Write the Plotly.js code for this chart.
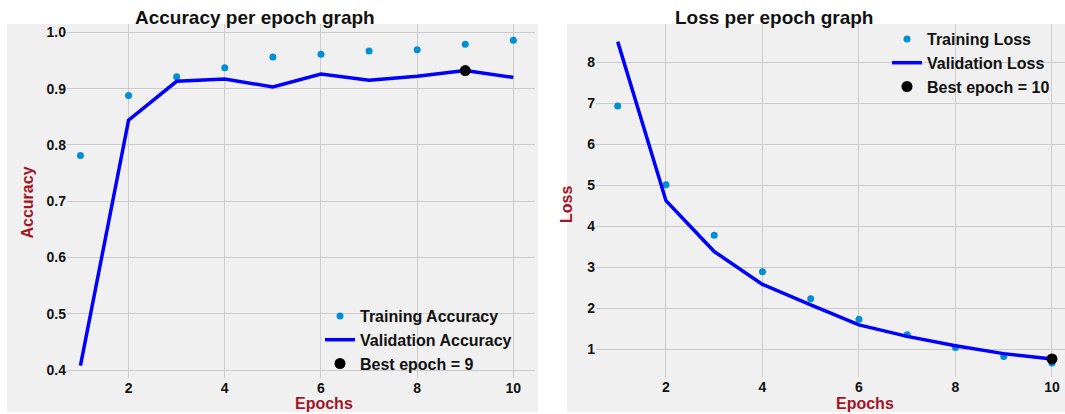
<!DOCTYPE html>
<html>
<head>
<meta charset="utf-8">
<script src="https://cdn.plot.ly/plotly-3.0.1.min.js"></script>
<style>html,body{margin:0;padding:0;background:#fff;}#chart{width:1065px;height:414px;}</style>
</head>
<body>
<div id="chart"></div>
<script>
// ---- data ----
var epochs = [1, 2, 3, 4, 5, 6, 7, 8, 9, 10];
var trainAcc = [0.781, 0.888, 0.921, 0.937, 0.956, 0.961, 0.967, 0.969, 0.979, 0.986];
var valAcc   = [0.408, 0.844, 0.913, 0.917, 0.903, 0.926, 0.915, 0.922, 0.932, 0.920];
var bestAccEpoch = [9];
var bestAccValue = [0.932];

var trainLoss = [6.93, 5.01, 3.78, 2.89, 2.23, 1.73, 1.35, 1.04, 0.82, 0.66];
var valLoss   = [8.50, 4.62, 3.38, 2.58, 2.08, 1.59, 1.31, 1.08, 0.89, 0.76];
var bestLossEpoch = [10];
var bestLossValue = [0.76];

var accTickVals = [0.4, 0.5, 0.6, 0.7, 0.8, 0.9, 1.0];
var lossTickVals = [1, 2, 3, 4, 5, 6, 7, 8];
var epochTickVals = [2, 4, 6, 8, 10];

// ---- styles ----
var FONT = 'Liberation Sans, Arial, sans-serif';
var GRAY = '#f0f0f0';
var GRID = '#cbcbcb';
var TRAIN_C = '#008fd5';
var VAL_C = '#0000ff';
var LABEL_C = '#a01628';
var W = 1065, H = 414;
function px(x) { return x / W; }
function py(y) { return (H - y) / H; }

var traces = [
  {x: epochs, y: trainAcc, type: 'scatter', mode: 'markers', name: 'Training Accuracy',
   marker: {color: TRAIN_C, size: 7}, xaxis: 'x', yaxis: 'y', legend: 'legend', legendrank: 1},
  {x: epochs, y: valAcc, type: 'scatter', mode: 'lines', name: 'Validation Accuracy',
   line: {color: VAL_C, width: 3.5}, xaxis: 'x', yaxis: 'y', legend: 'legend', legendrank: 2},
  {x: bestAccEpoch, y: bestAccValue, type: 'scatter', mode: 'markers', name: 'Best epoch = 9',
   marker: {color: '#000000', size: 11}, xaxis: 'x', yaxis: 'y', legend: 'legend', legendrank: 3},

  {x: epochs, y: trainLoss, type: 'scatter', mode: 'markers', name: 'Training Loss',
   marker: {color: TRAIN_C, size: 7}, xaxis: 'x2', yaxis: 'y2', legend: 'legend2', legendrank: 1},
  {x: epochs, y: valLoss, type: 'scatter', mode: 'lines', name: 'Validation Loss',
   line: {color: VAL_C, width: 3.5}, xaxis: 'x2', yaxis: 'y2', legend: 'legend2', legendrank: 2},
  {x: bestLossEpoch, y: bestLossValue, type: 'scatter', mode: 'markers', name: 'Best epoch = 10',
   marker: {color: '#000000', size: 11}, xaxis: 'x2', yaxis: 'y2', legend: 'legend2', legendrank: 3}
];

var tickFont = {family: FONT, size: 14, color: '#111111', weight: 'bold'};
function axisBase() {
  return {showgrid: true, gridcolor: GRID, gridwidth: 1, zeroline: false, showline: false,
          ticks: '', tickfont: tickFont, fixedrange: true};
}

var xa = axisBase(); xa.domain = [px(67), px(535)]; xa.range = [0.72, 10.45]; xa.tickvals = epochTickVals; xa.anchor = 'y';
var ya = axisBase(); ya.domain = [py(378), py(24)]; ya.range = [0.386, 1.0148]; ya.tickvals = accTickVals; ya.tickformat = '.1f'; ya.anchor = 'x';
var xa2 = axisBase(); xa2.domain = [px(596), 1]; xa2.range = [0.55, 10.27]; xa2.tickvals = epochTickVals; xa2.anchor = 'y2';
var ya2 = axisBase(); ya2.domain = [py(377), py(24)]; ya2.range = [0.32, 8.93]; ya2.tickvals = lossTickVals; ya2.anchor = 'x2';

var legendFont = {family: FONT, size: 16, color: '#111111', weight: 'bold'};

var layout = {
  width: W, height: H,
  margin: {l: 0, r: 0, t: 0, b: 0, pad: 0},
  paper_bgcolor: '#ffffff',
  plot_bgcolor: GRAY,
  showlegend: true,
  xaxis: xa, yaxis: ya, xaxis2: xa2, yaxis2: ya2,
  legend: {x: px(320), y: py(299), xanchor: 'left', yanchor: 'top', bgcolor: 'rgba(0,0,0,0)',
           font: legendFont, tracegroupgap: 0, itemclick: false},
  legend2: {x: px(887), y: py(22), xanchor: 'left', yanchor: 'top', bgcolor: 'rgba(0,0,0,0)',
            font: legendFont, tracegroupgap: 0, itemclick: false},
  shapes: [
    {type: 'rect', xref: 'paper', yref: 'paper', x0: px(7), x1: px(538), y0: py(412), y1: py(24),
     fillcolor: GRAY, line: {width: 0}, layer: 'below'},
    {type: 'rect', xref: 'paper', yref: 'paper', x0: px(567), x1: 1, y0: py(412), y1: py(24),
     fillcolor: GRAY, line: {width: 0}, layer: 'below'}
  ],
  annotations: [
    {text: 'Accuracy per epoch graph', xref: 'paper', yref: 'paper', x: px(254.5), y: py(18),
     xanchor: 'center', yanchor: 'middle', showarrow: false,
     font: {family: FONT, size: 19, color: '#111111', weight: 'bold'}},
    {text: 'Loss per epoch graph', xref: 'paper', yref: 'paper', x: px(774), y: py(18),
     xanchor: 'center', yanchor: 'middle', showarrow: false,
     font: {family: FONT, size: 19, color: '#111111', weight: 'bold'}},
    {text: 'Epochs', xref: 'paper', yref: 'paper', x: px(324), y: py(403),
     xanchor: 'center', yanchor: 'middle', showarrow: false,
     font: {family: FONT, size: 16, color: LABEL_C, weight: 'bold'}},
    {text: 'Epochs', xref: 'paper', yref: 'paper', x: px(865), y: py(403),
     xanchor: 'center', yanchor: 'middle', showarrow: false,
     font: {family: FONT, size: 16, color: LABEL_C, weight: 'bold'}},
    {text: 'Accuracy', xref: 'paper', yref: 'paper', x: px(27.5), y: py(203),
     xanchor: 'center', yanchor: 'middle', showarrow: false, textangle: -90,
     font: {family: FONT, size: 16, color: LABEL_C, weight: 'bold'}},
    {text: 'Loss', xref: 'paper', yref: 'paper', x: px(566.5), y: py(204.5),
     xanchor: 'center', yanchor: 'middle', showarrow: false, textangle: -90,
     font: {family: FONT, size: 16, color: LABEL_C, weight: 'bold'}}
  ]
};

Plotly.newPlot('chart', traces, layout, {displayModeBar: false, staticPlot: true});
</script>
</body>
</html>
